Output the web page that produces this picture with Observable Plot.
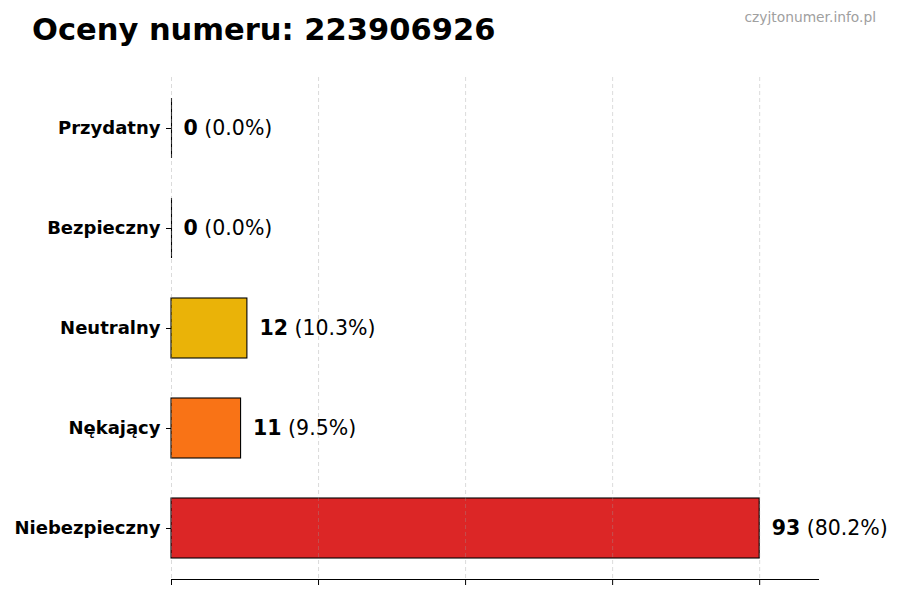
<!DOCTYPE html>
<html>
<head>
<meta charset="utf-8">
<script src="https://cdn.jsdelivr.net/npm/d3@7"></script>
<script src="https://cdn.jsdelivr.net/npm/@observablehq/plot@0.6"></script>
<style>
  html, body { margin: 0; padding: 0; background: #fff; }
  #wrap { position: relative; width: 900px; height: 600px; font-family: "DejaVu Sans", sans-serif; }
  #title { position: absolute; left: 32px; top: 12px; font-size: 30.5px; font-weight: bold; color: #000; }
  #wm { position: absolute; right: 24px; top: 9px; font-size: 13.8px; color: #a0a0a0; }
  #chart { position: absolute; left: 0; top: 0; }
</style>
</head>
<body>
<div id="wrap">
  <div id="chart"></div>
  <div id="title">Oceny numeru: 223906926</div>
  <div id="wm">czyjtonumer.info.pl</div>
</div>
<script>
const categories = ["Przydatny", "Bezpieczny", "Neutralny", "Nękający", "Niebezpieczny"];
const counts = [0, 0, 12, 11, 93];
const percents = ["0.0%", "0.0%", "10.3%", "9.5%", "80.2%"];
const colors = ["#22c55e", "#16a34a", "#eab308", "#f97316", "#dc2626"];
const xMax = 102.3;
const gridTicks = [0, 23.25, 46.5, 69.75, 93];

const data = categories.map((c, i) => ({cat: c, value: counts[i], pct: percents[i], color: colors[i]}));

const chart = Plot.plot({
  width: 900,
  height: 600,
  marginLeft: 171,
  marginRight: 82,
  marginTop: 77,
  marginBottom: 21,
  style: {fontFamily: "DejaVu Sans, sans-serif", background: "white"},
  x: {domain: [0, xMax], label: null},
  y: {domain: categories, paddingInner: 0.4, paddingOuter: 0.2, label: null},
  marks: [
    Plot.barX(data.filter(d => d.value > 0), {y: "cat", x: "value", fill: "color", stroke: "#000", strokeWidth: 1.1}),
    Plot.tickX(data.filter(d => d.value === 0), {y: "cat", x: "value", stroke: "#000", strokeWidth: 1.1}),
    Plot.ruleX(gridTicks, {stroke: "#999999", strokeOpacity: 0.45, strokeDasharray: "4,3", strokeWidth: 0.8}),
    Plot.frame({anchor: "bottom", stroke: "#000", strokeWidth: 1}),
    Plot.axisX({ticks: gridTicks, tickFormat: () => "", tickSize: 6, stroke: "#000", label: null}),
    Plot.axisY({tickSize: 5, tickPadding: 6, fontSize: 18, fontWeight: "bold", fill: "#000", stroke: "#000", label: null}),
    Plot.text(data, {y: "cat", x: "value", text: d => `${d.value} (${d.pct})`, dx: 12, textAnchor: "start", fontSize: 20.5, fill: "#000", className: "vlabel"})
  ]
});

document.getElementById("chart").appendChild(chart);

// bold the count part of each value label
chart.querySelectorAll(".vlabel text").forEach(t => {
  const s = t.textContent;
  const i = s.indexOf(" ");
  const num = s.slice(0, i), rest = s.slice(i);
  t.textContent = "";
  const b = document.createElementNS("http://www.w3.org/2000/svg", "tspan");
  b.setAttribute("font-weight", "bold");
  b.textContent = num;
  const r = document.createElementNS("http://www.w3.org/2000/svg", "tspan");
  r.textContent = rest;
  t.style.whiteSpace = "pre";
  t.appendChild(b);
  t.appendChild(r);
});
</script>
</body>
</html>
